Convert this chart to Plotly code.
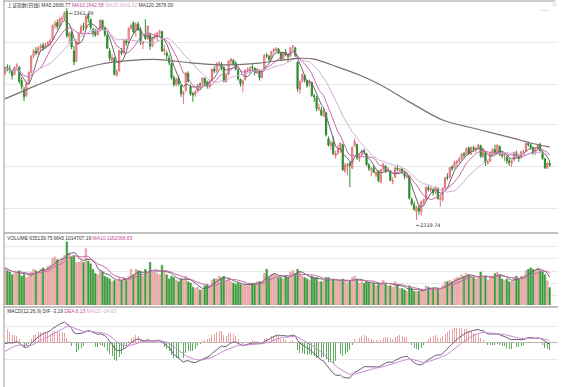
import plotly.graph_objects as go
import pandas as pd

# ---------------- data ----------------
open_ = [3040,3070,3062,3050,3035,3075,3070,3005,2960,2930,2995,3045,3125,3150,3140,3165,3178,3165,3180,3190,
         3205,3275,3290,3270,3305,3310,3345,3220,3240,3150,3100,3190,3240,3270,3262,3325,3305,3255,3245,3230,
         3250,3300,3260,3225,3150,3105,3115,3030,3052,3150,3140,3200,3190,3263,3289,3250,3282,3255,3185,3225,
         3210,3230,3175,3220,3220,3240,3245,3150,3140,3115,3090,3020,2985,3015,2980,2935,2955,3040,2975,2940,
         2935,2952,2988,2985,3015,2995,2975,3005,3060,3055,3085,3085,3070,3000,3035,3100,3105,3090,3055,3010,
         2985,3010,3058,3060,3072,3065,3045,3055,3020,3060,3131,3125,3110,3150,3155,3160,3140,3110,3145,3130,
         3125,3170,3165,3095,2960,3000,3030,3005,2985,2995,2930,2920,2865,2860,2830,2845,2720,2685,2700,2635,
         2650,2665,2690,2560,2580,2600,2575,2685,2690,2620,2640,2660,2645,2590,2565,2575,2540,2560,2505,2570,
         2585,2565,2560,2508,2530,2575,2565,2570,2550,2530,2535,2420,2395,2360,2380,2360,2405,2420,2478,2465,
         2470,2455,2475,2420,2420,2475,2532,2530,2580,2575,2600,2610,2620,2645,2640,2675,2645,2675,2665,2675,
         2685,2630,2650,2600,2610,2645,2665,2650,2680,2640,2635,2630,2610,2600,2615,2650,2630,2625,2650,2660,
         2695,2688,2675,2650,2670,2690,2655,2620,2575,2598]
high = [3075,3085,3080,3060,3075,3090,3075,3020,2975,3000,3050,3130,3160,3170,3175,3185,3190,3190,3200,3210,
        3280,3300,3305,3315,3325,3345,3361.39,3245,3250,3175,3200,3240,3280,3290,3330,3338,3310,3265,3260,3260,
        3305,3305,3270,3235,3165,3135,3120,3060,3155,3165,3205,3210,3265,3280,3295,3290,3295,3268,3200,3306,
        3275,3240,3220,3240,3245,3255,3250,3180,3150,3130,3095,3030,3020,3030,2985,2955,3045,3050,2985,2950,
        2960,2990,2995,3020,3020,3005,3010,3065,3075,3095,3100,3095,3075,3040,3105,3115,3110,3100,3065,3015,
        3010,3060,3070,3075,3085,3070,3065,3060,3060,3135,3140,3130,3150,3165,3170,3165,3145,3145,3160,3135,
        3170,3181,3170,3100,3005,3040,3035,3010,3010,3000,2940,2930,2890,2875,2870,2850,2730,2710,2730,2660,
        2690,2700,2695,2600,2600,2605,2680,2720,2695,2645,2665,2670,2650,2600,2580,2590,2560,2565,2570,2600,
        2590,2580,2565,2530,2580,2590,2575,2575,2555,2545,2540,2430,2410,2390,2395,2415,2425,2485,2490,2485,
        2475,2485,2480,2440,2480,2530,2550,2580,2590,2610,2615,2630,2650,2655,2675,2680,2680,2685,2680,2695,
        2690,2675,2655,2615,2655,2670,2690,2692,2685,2660,2650,2635,2625,2615,2655,2660,2640,2660,2665,2700,
        2705,2695,2680,2672,2695,2700,2660,2625,2605,2610]
low = [3030,3050,3040,3010,3030,3055,2990,2960,2905,2925,2985,3040,3115,3130,3130,3150,3150,3160,3170,3175,
       3200,3260,3255,3265,3290,3300,3215,3185,3160,3080,3095,3180,3230,3250,3255,3290,3255,3220,3220,3225,
       3245,3255,3220,3160,3100,3095,3030,3025,3050,3130,3135,3175,3185,3255,3235,3220,3250,3180,3160,3205,
       3205,3155,3170,3210,3200,3225,3145,3130,3110,3080,3010,2975,2975,2980,2925,2890,2950,2995,2930,2900,
       2925,2945,2965,2980,2980,2965,2965,3000,3040,3045,3070,3055,2995,2995,3030,3085,3080,3055,3005,2975,
       2950,3005,3045,3040,3055,3030,3040,3005,3015,3058,3115,3100,3105,3140,3145,3135,3100,3105,3125,3095,
       3120,3150,3120,2950,2940,2995,2995,2970,2975,2925,2900,2855,2855,2830,2825,2730,2680,2665,2640,2620,
       2640,2650,2560,2550,2540,2481,2570,2680,2615,2605,2630,2640,2585,2560,2535,2550,2530,2505,2500,2560,
       2550,2555,2510,2495,2525,2560,2555,2545,2520,2525,2420,2390,2365,2319.74,2345,2340,2395,2415,2460,2455,
       2440,2445,2420,2385,2410,2470,2515,2525,2560,2570,2580,2600,2615,2625,2635,2640,2640,2655,2650,2665,
       2625,2625,2585,2590,2605,2630,2640,2645,2635,2625,2610,2595,2585,2580,2610,2625,2605,2620,2640,2655,
       2680,2665,2640,2640,2665,2655,2615,2570,2570,2580]
close = [3068,3060,3055,3030,3070,3080,3000,2975,2925,2990,3045,3125,3150,3140,3165,3175,3165,3180,3190,3200,
         3275,3285,3270,3308,3310,3338,3225,3237,3170,3096,3195,3235,3269,3267,3318,3311,3265,3240,3229,3247,
         3301,3262,3231,3164,3114,3118,3034,3050,3152,3141,3201,3188,3263,3277,3243,3282,3254,3192,3196,3212,
         3273,3173,3216,3224,3237,3246,3151,3159,3128,3094,3019,2986,3010,2989,2941,2947,3043,3002,2939,2935,
         2950,2982,2984,3018,2994,2977,3001,3060,3051,3087,3090,3073,3002,3031,3102,3111,3087,3060,3013,2990,
         3004,3057,3060,3068,3069,3044,3058,3020,3054,3128,3128,3109,3148,3157,3160,3145,3112,3143,3133,3123,
         3166,3173,3130,2965,2999,3033,3007,2979,3000,2932,2925,2867,2870,2836,2856,2739,2688,2698,2644,2647,
         2670,2697,2567,2590,2593,2587,2678,2705,2625,2635,2656,2655,2592,2573,2571,2553,2553,2513,2568,2592,
         2560,2570,2515,2513,2576,2570,2569,2553,2534,2536,2427,2398,2373,2382,2364,2409,2420,2480,2470,2475,
         2455,2479,2425,2424,2475,2528,2528,2578,2573,2603,2609,2620,2643,2637,2672,2646,2677,2670,2672,2689,
         2634,2669,2603,2607,2649,2668,2648,2688,2642,2636,2639,2611,2602,2611,2652,2638,2623,2655,2656,2696,
         2690,2678,2648,2667,2689,2660,2622,2577,2599,2589]
volume = [1.35,1.25,1.20,1.10,1.15,1.20,1.25,1.05,1.10,1.00,1.05,1.20,1.30,1.25,1.20,1.30,1.35,1.30,1.40,1.45,
          1.70,1.75,1.65,1.60,1.70,1.80,2.30,1.90,1.75,1.80,1.55,1.55,1.60,1.55,2.05,1.60,1.50,1.30,1.15,1.10,
          1.25,1.20,1.05,1.00,0.95,0.85,0.90,0.85,1.00,0.90,1.00,0.90,1.05,1.30,1.10,1.30,1.25,1.20,1.05,1.30,
          1.15,1.55,1.20,1.20,1.15,1.10,1.45,1.25,1.10,0.95,1.05,1.00,0.90,0.85,0.95,0.95,1.05,0.85,0.80,0.65,
          0.60,0.65,0.55,0.55,0.70,0.75,0.70,0.90,0.95,0.95,1.05,1.00,1.05,0.85,0.95,0.85,0.80,0.75,0.80,0.75,
          0.70,0.75,0.70,0.75,0.80,0.80,0.85,0.85,0.85,1.15,1.30,1.00,1.10,1.15,1.10,1.00,1.00,0.95,1.05,1.00,
          1.20,1.25,1.15,1.30,1.20,1.05,1.00,0.95,0.90,1.05,1.00,1.00,0.85,0.85,0.85,1.00,1.00,0.85,0.95,0.85,
          0.90,0.85,0.95,0.85,0.80,0.90,1.00,1.05,0.95,0.80,0.85,0.80,0.85,0.80,0.75,0.80,0.70,0.75,0.80,0.90,
          0.80,0.70,0.70,0.65,0.85,0.75,0.60,0.60,0.55,0.50,0.70,0.60,0.50,0.50,0.50,0.55,0.55,0.70,0.65,0.60,
          0.60,0.60,0.60,0.60,0.70,0.85,0.85,0.90,0.85,0.95,1.00,1.00,1.10,1.05,1.15,1.10,1.05,1.00,0.95,1.00,
          1.20,1.00,1.05,0.90,1.00,1.05,1.15,1.20,1.10,0.95,0.90,0.95,0.85,0.85,1.00,1.05,0.95,1.05,1.00,1.25,
          1.30,1.35,1.30,1.25,1.35,1.25,1.20,1.10,0.88,0.635]  # millions

ma120_x = [0, 13, 26, 40, 52, 65, 78, 90, 107, 123, 130, 140, 149, 158, 170, 184, 200, 214, 221, 229]
ma120_y = [2915, 2980, 3040, 3085, 3103, 3108, 3092, 3082, 3091, 3114, 3110, 3071, 3032, 2983, 2900,
           2811, 2762, 2721, 2698, 2678]

main_label = "上证指数(日线) MA5 2606.77 <span style='color:#c24a9e'>MA10 2642.58</span> <span style='color:#d7a6cf'>MA20 2642.62</span> MA120 2678.00"
vol_label = "VOLUME 635139.75 MA5 1014707.19 <span style='color:#c24a9e'>MA10 1162068.83</span>"
macd_label = "MACD(12,26,9) DIF -3.19 <span style='color:#c24a9e'>DEA 8.13</span> <span style='color:#d7a6cf'>MACD -24.63</span>"
high_label = "3361.39"
low_label = "2319.74"

# indicator seeds (state of the EMAs at the first visible day)
E12_SEED, E26_SEED, DEA_SEED = 3035.0, 3040.0, -35.0

# ---------------- derived indicators ----------------
N = len(close)
x = list(range(N))
cs = pd.Series(close)
ma5 = cs.rolling(5, min_periods=1).mean()
ma10 = cs.rolling(10, min_periods=1).mean()
ma20 = cs.rolling(20, min_periods=1).mean()
vs = pd.Series(volume)
vma5 = vs.rolling(5, min_periods=1).mean()
vma10 = vs.rolling(10, min_periods=1).mean()

e12, e26, dea = E12_SEED, E26_SEED, DEA_SEED
dif_l, dea_l = [], []
for c in close:
    e12 += (c - e12) * 2 / 13
    e26 += (c - e26) * 2 / 27
    d = e12 - e26
    dea += (d - dea) * 2 / 10
    dif_l.append(d)
    dea_l.append(dea)
hist = [2 * (a - b) for a, b in zip(dif_l, dea_l)]

UP_LINE, UP_FILL, DN = "#e0727c", "#f4c2c2", "#2b8c2b"
VOL_UP, VOL_DN = "#eeb2b2", "#3d9c3d"

fig = go.Figure()
fig.add_trace(go.Candlestick(
    x=x, open=open_, high=high, low=low, close=close,
    increasing=dict(line=dict(color=UP_LINE, width=1), fillcolor=UP_FILL),
    decreasing=dict(line=dict(color=DN, width=1), fillcolor=DN),
    whiskerwidth=0, xaxis="x", yaxis="y", hoverinfo="skip"))
for s, col, w in [(ma5, "#6e6470", 1), (ma10, "#c86aa8", 1), (ma20, "#cfaed6", 1)]:
    fig.add_trace(go.Scatter(x=x, y=s, mode="lines", line=dict(color=col, width=w),
                             xaxis="x", yaxis="y", hoverinfo="skip"))
fig.add_trace(go.Scatter(x=ma120_x, y=ma120_y, mode="lines",
                         line=dict(color="#7d6e6e", width=1.2, shape="spline", smoothing=0.8),
                         xaxis="x", yaxis="y", hoverinfo="skip"))

vcol = [VOL_UP if c >= o else VOL_DN for o, c in zip(open_, close)]
vline = ["#e08c8c" if c >= o else VOL_DN for o, c in zip(open_, close)]
fig.add_trace(go.Bar(x=x, y=volume, width=0.7, marker=dict(color=vcol, line=dict(color=vline, width=0.5)),
                     xaxis="x", yaxis="y2", hoverinfo="skip"))
fig.add_trace(go.Scatter(x=x, y=vma5, mode="lines", line=dict(color="#6e6470", width=1),
                         xaxis="x", yaxis="y2", hoverinfo="skip"))
fig.add_trace(go.Scatter(x=x, y=vma10, mode="lines", line=dict(color="#c86aa8", width=1),
                         xaxis="x", yaxis="y2", hoverinfo="skip"))

hcol = ["#e9a3a3" if h >= 0 else "#5faf5f" for h in hist]
fig.add_trace(go.Bar(x=x, y=hist, width=0.4, marker=dict(color=hcol, line=dict(width=0)),
                     xaxis="x", yaxis="y3", hoverinfo="skip"))
fig.add_trace(go.Scatter(x=x, y=dif_l, mode="lines", line=dict(color="#6e5a7a", width=1),
                         xaxis="x", yaxis="y3", hoverinfo="skip"))
fig.add_trace(go.Scatter(x=x, y=dea_l, mode="lines", line=dict(color="#c98ad2", width=1),
                         xaxis="x", yaxis="y3", hoverinfo="skip"))

H = 387.0
def py(p):
    return 1 - p / H

FONT = "Liberation Sans, Arial, Noto Sans CJK SC"
grid = "#e9e9e9"
fig.update_layout(
    width=569, height=387, margin=dict(l=4, r=11, t=0, b=0),
    paper_bgcolor="white", plot_bgcolor="white", showlegend=False, bargap=0,
    hovermode=False,
    font=dict(family=FONT, size=6, color="#333333"),
    xaxis=dict(range=[-0.42, 232.5], showgrid=False, zeroline=False, showticklabels=False,
               ticks="", showline=False, rangeslider=dict(visible=False), anchor="y3"),
    yaxis=dict(domain=[py(233), py(2)], range=[2255.7, 3390.9],
               tickvals=[2373.8, 2580.1, 2786.5, 2987.9, 3194.3], gridcolor=grid,
               showticklabels=False, ticks="", zeroline=False, anchor="x"),
    yaxis2=dict(domain=[py(305), py(233)], range=[0, 2.62],
                tickvals=[0.33, 0.78, 1.23, 1.68, 2.13], gridcolor=grid,
                showticklabels=False, ticks="", zeroline=False, anchor="x"),
    yaxis3=dict(domain=[0, py(307)], range=[-147, 120], tickvals=[-55, 55], gridcolor=grid,
                showticklabels=False, ticks="", zeroline=True, zerolinecolor="#b8b8b8",
                zerolinewidth=1, anchor="x"),
)

shapes = [
    dict(type="line", xref="paper", yref="paper", x0=0, x1=0.995, y0=py(1), y1=py(1),
         line=dict(color="#9a9a9a", width=1)),
    dict(type="line", xref="paper", yref="paper", x0=0, x1=1, y0=py(233), y1=py(233),
         line=dict(color="#ababab", width=1.5)),
    dict(type="line", xref="paper", yref="paper", x0=0, x1=1, y0=py(307), y1=py(307),
         line=dict(color="#ababab", width=1.5)),
    dict(type="line", xref="paper", yref="paper", x0=0, x1=0, y0=0, y1=1,
         line=dict(color="#9a9a9a", width=1)),
]
fig.update_layout(shapes=shapes)

def px(p):
    return (p - 4) / 554.0

lab = dict(family=FONT, size=6, color="#333333")
ann = [
    dict(text=main_label, x=px(5), y=py(5.5), xref="paper", yref="paper", xanchor="left",
         yanchor="middle", showarrow=False, font=lab),
    dict(text=vol_label, x=px(5), y=py(238), xref="paper", yref="paper", xanchor="left",
         yanchor="middle", showarrow=False, font=lab),
    dict(text=macd_label, x=px(5), y=py(310.5), xref="paper", yref="paper", xanchor="left",
         yanchor="middle", showarrow=False, font=lab),
    dict(text="←" + high_label, x=26, y=3361.39, xref="x", yref="y", xanchor="left",
         yanchor="middle", xshift=0, yshift=-4, showarrow=False,
         font=dict(family="DejaVu Sans", size=6, color="#333333")),
    dict(text="←" + low_label, x=173, y=2319.74, xref="x", yref="y", xanchor="left",
         yanchor="middle", xshift=-2, yshift=-5, showarrow=False,
         font=dict(family="DejaVu Sans", size=6, color="#333333")),
    dict(text="-----", x=px(546), y=py(10), xref="paper", yref="paper", xanchor="center",
         yanchor="middle", showarrow=False, font=dict(family=FONT, size=6, color="#d27ac0")),
    dict(text="□", x=px(555), y=py(4), xref="paper", yref="paper", xanchor="center",
         yanchor="middle", showarrow=False, font=dict(family=FONT, size=6, color="#999999")),
]
fig.update_layout(annotations=ann)

# The browser will not draw text below 6px, so the 6px labels are scaled down to about 5px.
post = """
document.body.style.margin='0';document.body.style.padding='0';document.body.style.overflow='hidden';
var gd = document.getElementById('{plot_id}');
function shrinkLabels(){
  gd.querySelectorAll('text.annotation-text').forEach(function(t){
    t.style.transformBox='fill-box'; t.style.transformOrigin='0% 50%'; t.style.transform='scale(0.82)';
  });
}
shrinkLabels(); setTimeout(shrinkLabels, 30); setTimeout(shrinkLabels, 300);
if (gd.on) { gd.on('plotly_afterplot', shrinkLabels); }
"""
fig.write_html("out.html", config={"displayModeBar": False, "staticPlot": True}, post_script=post)
